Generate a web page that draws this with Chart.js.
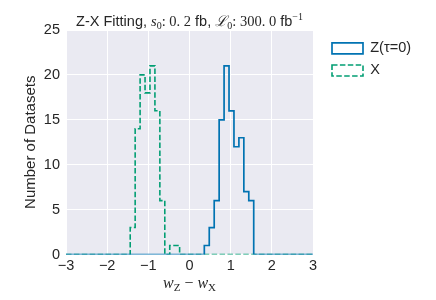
<!DOCTYPE html>
<html lang="en">
<head>
<meta charset="utf-8">
<title>Z-X Fitting</title>
<script src="https://cdn.jsdelivr.net/npm/chart.js@4.4.0/dist/chart.umd.min.js"></script>
<style>
  html, body { margin: 0; padding: 0; background: #fff; }
  .chart-container { width: 436px; height: 300px; }
</style>
</head>
<body>
<div class="chart-container"><canvas id="hist-chart"></canvas></div>
<script>
/* histogram binning: 50 bins from -3 to 3 */
const binLow = -3;
const binHigh = 3;
const binCount = 50;

/* non-empty stretch of each histogram, counts */
const zFirstBin = 28;
const zCounts = [1, 3, 6, 15, 21, 16, 12, 13, 7, 6];
const xFirstBin = 13;
const xCounts = [3, 14, 20, 18, 21, 16, 6, 0, 1, 1];

const xTicks = [-3, -2, -1, 0, 1, 2, 3];
const yTicks = [0, 5, 10, 15, 20, 25];
const seriesLabels = ['Z(τ=0)', 'X'];

const zColor = '#0173B2';
const xColor = '#029E73';
const textColor = '#262626';
const sansFamily = '"Liberation Sans", Arial, sans-serif';
const serifFamily = '"Liberation Serif", "DejaVu Serif", serif';

/* turn bin counts into step outline points across the whole range:
   point i sits on the left edge of bin i, with that bin's count */
function stepPoints(firstBin, counts) {
  const width = (binHigh - binLow) / binCount;
  const pts = [];
  for (let i = 0; i < binCount; i++) {
    const k = i - firstBin;
    const c = (k >= 0 && k < counts.length) ? counts[k] : 0;
    pts.push({ x: binLow + i * width, y: c });
  }
  pts.push({ x: binHigh, y: 0 });
  return pts;
}

function drawRich(ctx, parts, cx, baseline) {
  let total = 0;
  parts.forEach(p => { ctx.font = p.font; p.w = ctx.measureText(p.text).width; total += p.w; });
  let x = cx - total / 2;
  ctx.textAlign = 'left';
  ctx.textBaseline = 'alphabetic';
  parts.forEach(p => {
    ctx.font = p.font;
    ctx.fillText(p.text, x, baseline + (p.dy || 0));
    x += p.w;
  });
}

const plotBackground = {
  id: 'plotBackground',
  beforeDraw(chart) {
    const { ctx, chartArea: a } = chart;
    ctx.save();
    ctx.fillStyle = '#EAEAF2';
    ctx.fillRect(a.left, a.top, a.right - a.left, a.bottom - a.top);
    ctx.restore();
  }
};

/* title and x label carry math-style sub/superscripts, so draw them by hand */
const mathLabels = {
  id: 'mathLabels',
  afterDraw(chart) {
    const { ctx, chartArea: a } = chart;
    const cx = (a.left + a.right) / 2;
    const sans = '14.5px ' + sansFamily;
    const serif = '14.5px ' + serifFamily;
    const serifIt = 'italic 14.5px ' + serifFamily;
    const small = '10px ' + serifFamily;
    ctx.save();
    ctx.fillStyle = textColor;
    drawRich(ctx, [
      { text: 'Z-X Fitting, ', font: sans },
      { text: 's', font: serifIt },
      { text: '0', font: small, dy: 2.5 },
      { text: ': 0. 2', font: serif },
      { text: ' fb, ', font: sans },
      { text: 'ℒ', font: serifIt },
      { text: '0', font: small, dy: 2.5 },
      { text: ': 300. 0', font: serif },
      { text: ' fb', font: sans },
      { text: '−1', font: small, dy: -6 }
    ], cx, a.top - 4);
    drawRich(ctx, [
      { text: 'w', font: 'italic 16px ' + serifFamily },
      { text: 'Z', font: '11px ' + serifFamily, dy: 2.5 },
      { text: ' − ', font: '16px ' + serifFamily },
      { text: 'w', font: 'italic 16px ' + serifFamily },
      { text: 'X', font: '11px ' + serifFamily, dy: 2.5 }
    ], cx, 288);
    ctx.restore();
  }
};

/* legend sits a little away from the plot, as matplotlib's does */
const legendGap = 11.5;
const legendShift = {
  id: 'legendShift',
  afterLayout(chart) {
    const lg = chart.legend;
    if (!lg) return;
    lg.left += legendGap;
    lg.right += legendGap;
  }
};

/* size the right padding so the plot ends where the reference does */
const tickFont = { family: sansFamily, size: 14.5 };
const legendPad = 7.5;
const measure = document.createElement('canvas').getContext('2d');
measure.font = 'normal 14.5px ' + sansFamily;
const legendTextW = Math.max(...seriesLabels.map(s => measure.measureText(s).width));
const legendWidth = legendPad + 31 + 14.5 / 2 + legendTextW + 10;
const rightPad = Math.max(0, 436 - 313 - legendWidth);

new Chart(document.getElementById('hist-chart'), {
  type: 'line',
  data: {
    datasets: [
      {
        label: seriesLabels[0],
        data: stepPoints(zFirstBin, zCounts),
        borderColor: zColor,
        backgroundColor: 'transparent',
        borderWidth: 1.7,
        stepped: 'before',
        pointRadius: 0,
        fill: false,
        clip: 0
      },
      {
        label: seriesLabels[1],
        data: stepPoints(xFirstBin, xCounts),
        borderColor: xColor,
        backgroundColor: 'transparent',
        borderWidth: 1.6,
        borderDash: [5.5, 2.4],
        stepped: 'before',
        pointRadius: 0,
        fill: false,
        clip: 0
      }
    ]
  },
  options: {
    responsive: true,
    maintainAspectRatio: false,
    animation: false,
    layout: { padding: { left: 4, top: 30, right: rightPad, bottom: 0 } },
    plugins: {
      tooltip: { enabled: false },
      legend: {
        position: 'right',
        align: 'start',
        fullSize: false,
        title: { display: true, text: '', padding: 0, font: { size: 3.1 } },
        labels: {
          boxWidth: 31,
          boxHeight: 11,
          padding: legendPad,
          font: tickFont,
          color: textColor
        }
      }
    },
    scales: {
      x: {
        type: 'linear',
        min: binLow,
        max: binHigh,
        afterBuildTicks: s => { s.ticks = xTicks.map(v => ({ value: v })); },
        ticks: {
          font: tickFont,
          color: textColor,
          padding: 3,
          maxRotation: 0,
          callback: v => String(v).replace('-', '−')
        },
        grid: { color: '#ffffff', lineWidth: 1, drawTicks: false },
        border: { display: false },
        afterFit: s => { s.height = 45.5; }
      },
      y: {
        type: 'linear',
        min: 0,
        max: 25,
        afterBuildTicks: s => { s.ticks = yTicks.map(v => ({ value: v })); },
        ticks: { font: tickFont, color: textColor, padding: 6 },
        grid: { color: '#ffffff', lineWidth: 1, drawTicks: false },
        border: { display: false },
        title: {
          display: true,
          text: 'Number of Datasets',
          font: { family: sansFamily, size: 15 },
          color: textColor,
          padding: { top: 17.5, bottom: 0 }
        },
        afterFit: s => { s.width = 62; }
      }
    }
  },
  plugins: [plotBackground, mathLabels, legendShift]
});
</script>
</body>
</html>
